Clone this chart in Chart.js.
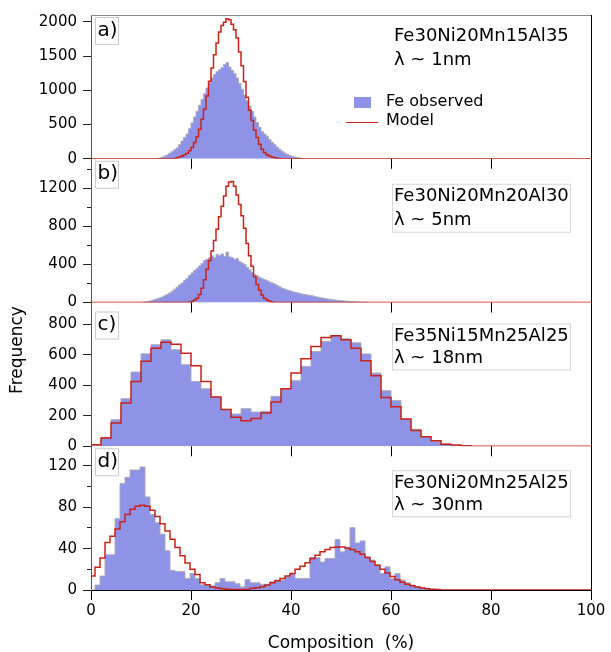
<!DOCTYPE html>
<html>
<head>
<meta charset="utf-8">
<script src="https://cdn.jsdelivr.net/npm/chart.js@4.4.0/dist/chart.umd.min.js"></script>
<style>
  html, body { margin: 0; padding: 0; background: #fff; }
</style>
</head>
<body>
<canvas id="myChart" width="611" height="652"></canvas>
<script>
const FONT = '"DejaVu Sans", Verdana, sans-serif';

// panel a) Fe30Ni20Mn15Al35, bins of 0.5 %
const obsStartA = 13.5, modelStartA = 17, binA = 0.5;
const observedA = [10, 22, 38, 55, 80, 105, 130, 158, 205, 260, 310, 360, 440, 525, 610, 695, 780, 865, 950, 1035,
  1110, 1180, 1230, 1275, 1300, 1330, 1375, 1405, 1340, 1290, 1240, 1180, 1100, 1015, 930, 845, 770, 695, 610, 530,
  460, 395, 360, 330, 280, 240, 205, 170, 140, 110, 85, 65, 48, 35, 25, 18, 12, 6];
const modelA = [15, 25, 40, 58, 80, 116, 165, 237, 320, 431, 576, 722, 915, 1133, 1327, 1521, 1690, 1850, 1947, 1995,
  2044, 2029, 1966, 1884, 1763, 1560, 1360, 1130, 900, 710, 560, 420, 310, 213, 140, 92, 58, 39, 25, 15, 8];

// panel b) Fe30Ni20Mn20Al30, bins of 0.5 %
const obsStartB = 10.5, modelStartB = 19.5, binB = 0.5;
const observedB = [5, 10, 15, 22, 30, 38, 48, 58, 70, 85, 100, 118, 140, 160, 185, 205, 230, 255, 285, 310,
  335, 360, 385, 410, 440, 455, 470, 490, 470, 505, 495, 510, 485, 530, 480, 470, 455, 460, 430, 415,
  400, 370, 345, 315, 295, 280, 265, 250, 240, 228, 215, 205, 195, 180, 165, 152, 142, 132, 124, 116,
  108, 102, 95, 90, 85, 80, 75, 70, 64, 58, 53, 48, 43, 38, 34, 30, 27, 24, 21, 18,
  16, 14, 12, 10, 8, 7, 5, 4, 3, 2];
const modelB = [3, 10, 25, 45, 85, 150, 240, 350, 440, 540, 650, 770, 900, 1010, 1120, 1220, 1265, 1270, 1220, 1130,
  1030, 910, 780, 620, 490, 380, 270, 190, 130, 80, 45, 25, 12, 5];

// panel c) Fe35Ni15Mn25Al25, bins of 2 %
const obsStartC = 0, modelStartC = 0, binC = 2;
const observedC = [5, 59, 175, 313, 488, 608, 667, 700, 634, 536, 426, 378, 324, 241, 212, 247, 225, 230, 328, 378,
  431, 525, 623, 689, 724, 706, 680, 607, 481, 365, 300, 179, 112, 63, 33, 15, 4, 2];
const modelC = [10, 55, 153, 284, 426, 558, 645, 684, 671, 612, 529, 426, 324, 241, 190, 168, 182, 219, 291, 378,
  481, 575, 656, 715, 726, 700, 645, 562, 463, 321, 260, 179, 103, 63, 36, 13, 8, 3];

// panel d) Fe30Ni20Mn25Al25, bins of 1 %
const obsStartD = -0.2, modelStartD = -0.2, binD = 1;
const observedD = [0, 4.8, 13.5, 34, 34, 69, 103, 109, 116, 116, 119, 90, 73, 65, 54, 38, 19, 18, 18, 11,
  16, 11, 5, 5, 4, 7, 11, 8, 8, 6, 3, 10, 7, 7, 5.5, 5.5, 8, 9.6, 9.6, 12.8,
  15.4, 11.2, 11.2, 11.2, 31.4, 31.4, 27, 30.5, 30.5, 48.8, 36.9, 41, 60.3, 45.5, 47.5, 32, 28.9, 24, 16, 22.4,
  11.2, 16, 9.6, 7, 4.8, 3.2, 2, 1.2, 0.5];
const modelD = [13.5, 22, 31, 46, 52, 59, 66, 73, 78, 81, 82, 81, 77, 71, 64, 57, 49, 41, 33, 26,
  20, 15, 7, 5, 3, 2, 1.3, 0.8, 0.5, 0.4, 0.5, 0.6, 1.6, 2.2, 3.2, 4.8, 7, 9, 11.2, 13.5,
  16, 20, 23, 26.3, 30.5, 33.7, 36.9, 39.1, 41, 41.7, 41.7, 40.7, 39.1, 36.9, 34.6, 31.4, 27.5, 24, 20, 16.5,
  13, 10, 7.5, 5.5, 4, 3, 2, 1.3, 0.8, 0.4];

const xTicks = [0, 20, 40, 60, 80, 100];
const panelTags = ["a)", "b)", "c)", "d)"];
const alloys = ["Fe30Ni20Mn15Al35", "Fe30Ni20Mn20Al30", "Fe35Ni15Mn25Al25", "Fe30Ni20Mn25Al25"];
const lambdas = ["λ ~ 1nm", "λ ~ 5nm", "λ ~ 18nm", "λ ~ 30nm"];
const legendLabels = ["Fe observed", "Model"];

const BLUE = "rgb(143,147,232)";
const RED = "rgb(200,35,25)";

// histogram bins -> points for a stepped line
function steps(start, width, vals, toEnd) {
  const pts = [];
  if (toEnd && start > 0) pts.push({ x: 0, y: 0 });
  pts.push({ x: start, y: 0 });
  vals.forEach((v, i) => pts.push({ x: start + i * width, y: v }));
  pts.push({ x: start + vals.length * width, y: 0 });
  if (toEnd) pts.push({ x: 100, y: 0 });
  return pts;
}

function observed(id, pts) {
  return { data: pts, yAxisID: id, stepped: "before", fill: "origin", backgroundColor: BLUE,
    borderColor: "rgba(170,170,180,0.9)", borderWidth: 1, pointRadius: 0, order: 1 };
}
function model(id, pts) {
  return { data: pts, yAxisID: id, stepped: "before", fill: false,
    borderColor: RED, borderWidth: 1.5, pointRadius: 0, order: 0 };
}

function yAxis(max, step, labelEvery) {
  return {
    type: "linear", position: "left", stack: "panels", stackWeight: 1,
    min: 0, max: max,
    border: { color: "#555", width: 1 },
    grid: {
      drawOnChartArea: false, tickLength: 8, tickColor: "#222",
      tickBorderDash: (c) => (c.tick && c.tick.value % labelEvery) ? [0, 4, 4, 0] : []
    },
    ticks: {
      autoSkip: false, color: "#000", padding: 6,
      font: { family: FONT, size: 15 },
      callback: (v) => (v % labelEvery === 0 ? v : "")
    },
    // chart.js snaps big steps to the max, so list the ticks here
    afterBuildTicks: (s) => {
      const t = [];
      for (let v = 0; v <= max; v += step) t.push({ value: v });
      s.ticks = t;
    },
    afterFit: (s) => { s.width = 91; }
  };
}

const deco = {
  id: "deco",
  afterDraw(chart) {
    const { ctx, chartArea, scales } = chart;
    const x = scales.x;
    const ids = ["yA", "yB", "yC", "yD"];
    ctx.save();
    // frame
    ctx.lineWidth = 1;
    ctx.strokeStyle = "#888";
    ctx.beginPath();
    ctx.moveTo(chartArea.left, chartArea.top + 0.5);
    ctx.lineTo(chartArea.right, chartArea.top + 0.5);
    ctx.stroke();
    ctx.strokeStyle = "#000";
    ctx.beginPath();
    ctx.moveTo(chartArea.right + 0.5, chartArea.top);
    ctx.lineTo(chartArea.right + 0.5, chartArea.bottom);
    ctx.stroke();
    // x ticks under each upper panel
    ["yA", "yB", "yC"].forEach((id) => {
      const yb = scales[id].bottom;
      xTicks.slice(1, -1).forEach((v) => {
        const px = Math.round(x.getPixelForValue(v)) + 0.5;
        ctx.beginPath();
        ctx.moveTo(px, yb);
        ctx.lineTo(px, yb + 10);
        ctx.stroke();
      });
    });
    // panel tags and notes
    const tagOffsets = [2, 2, 9, 2];
    const noteRows = [[21, 45], [38, 62], [34, 56], [37, 59]];
    const noteX = x.getPixelForValue(60.6);
    ids.forEach((id, i) => {
      const top = scales[id].top;
      const tx = chartArea.left + 4.5, ty = top + tagOffsets[i] + 0.5;
      ctx.strokeStyle = "#ccc";
      ctx.strokeRect(tx, ty, 23, 27);
      ctx.fillStyle = "#000";
      ctx.font = "20px " + FONT;
      ctx.textAlign = "left";
      ctx.textBaseline = "middle";
      ctx.fillText(panelTags[i], tx + 2, ty + 13);

      ctx.font = "18px " + FONT;
      const [r1, r2] = noteRows[i];
      if (i > 0) {
        ctx.strokeStyle = "#d6d6d6";
        ctx.strokeRect(Math.round(noteX) - 1.5, top + r1 - 12.5, 178, r2 - r1 + 24);
      }
      ctx.fillText(alloys[i], noteX, top + r1);
      ctx.fillText(lambdas[i], noteX, top + r2);
    });
    // legend in panel a
    const topA = scales.yA.top;
    const lx = x.getPixelForValue(52.6);
    ctx.fillStyle = BLUE;
    ctx.fillRect(lx, topA + 82, 17, 11);
    ctx.strokeStyle = RED;
    ctx.lineWidth = 1;
    ctx.beginPath();
    ctx.moveTo(lx - 8, topA + 107.5);
    ctx.lineTo(lx + 24, topA + 107.5);
    ctx.stroke();
    ctx.fillStyle = "#000";
    ctx.font = "16px " + FONT;
    ctx.fillText(legendLabels[0], lx + 32, topA + 87);
    ctx.fillText(legendLabels[1], lx + 32, topA + 106);
    // y title
    ctx.translate(18, 350);
    ctx.rotate(-Math.PI / 2);
    ctx.textAlign = "center";
    ctx.font = "17px " + FONT;
    ctx.fillText("Frequency", 0, 0);
    ctx.restore();
  }
};

Chart.defaults.font.family = FONT;

new Chart(document.getElementById("myChart").getContext("2d"), {
  type: "line",
  data: {
    datasets: [
      model("yA", steps(modelStartA, binA, modelA, true)),
      observed("yA", steps(obsStartA, binA, observedA, false)),
      model("yB", steps(modelStartB, binB, modelB, true)),
      observed("yB", steps(obsStartB, binB, observedB, false)),
      model("yC", steps(modelStartC, binC, modelC, true)),
      observed("yC", steps(obsStartC, binC, observedC, false)),
      model("yD", steps(modelStartD, binD, modelD, true)),
      observed("yD", steps(obsStartD, binD, observedD, false)),
    ],
  },
  options: {
    responsive: false,
    animation: false,
    events: [],
    layout: { padding: { left: 0, right: 20, top: 12, bottom: 0 } },
    plugins: { legend: { display: false }, tooltip: { enabled: false } },
    scales: {
      x: {
        type: "linear", position: "bottom", min: 0, max: 100,
        border: { color: "#000" },
        grid: { drawOnChartArea: false, tickLength: 10, tickColor: "#000" },
        ticks: { stepSize: 20, color: "#000", padding: 2, maxRotation: 0, font: { family: FONT, size: 15 } },
        title: { display: true, text: "Composition  (%)", color: "#000",
          font: { family: FONT, size: 17, lineHeight: 1 }, padding: { top: 0, bottom: 0 } },
        afterFit: (s) => { s.height = 62; }
      },
      // first defined sits at the bottom of the stack
      yD: yAxis(139, 20, 40),
      yC: yAxis(945, 200, 200),
      yB: yAxis(1510, 200, 400),
      yA: yAxis(2100, 500, 500),
    },
  },
  plugins: [deco],
});
</script>
</body>
</html>
